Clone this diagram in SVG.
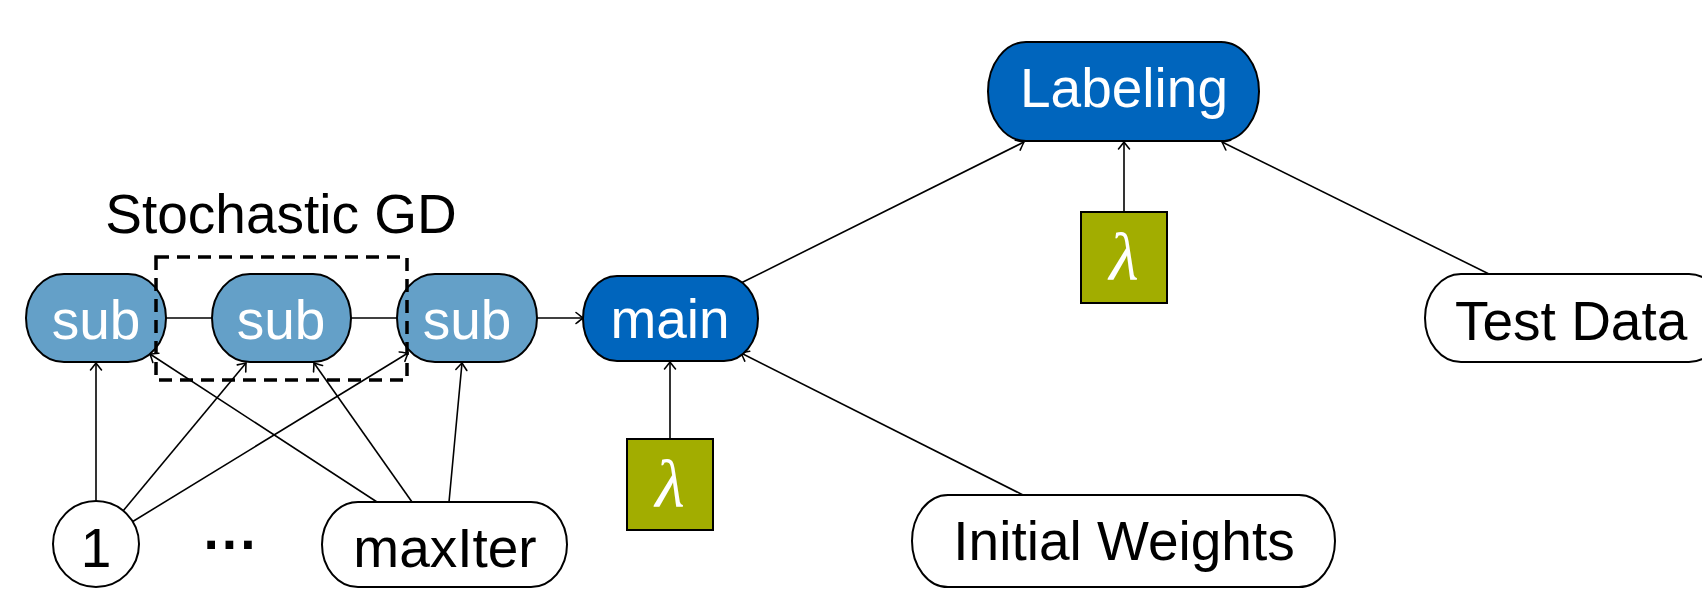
<svg xmlns="http://www.w3.org/2000/svg" width="1702" height="591" viewBox="0 0 1702 591">
<style>
.n{stroke:#000;stroke-width:2}
.sub{fill:#64A0C8}
.blue{fill:#0065BD}
.white{fill:#fff}
.lam{fill:#A2AD00;stroke:#000;stroke-width:2}
.t{font-family:"Liberation Sans",Arial,sans-serif;font-size:55px;text-anchor:middle}
.tw{fill:#fff}
.tb{fill:#000}
.l{font-family:"Liberation Serif","Times New Roman",serif;font-style:italic;font-size:68px;fill:#fff;text-anchor:middle}
.c{fill:none;stroke:#000;stroke-width:1.6}
.a{marker-end:url(#arr)}
</style>
<defs>
<marker id="arr" markerUnits="userSpaceOnUse" markerWidth="14" markerHeight="14" refX="0" refY="0" viewBox="-10 -7 12 14" orient="auto" overflow="visible">
<path d="M-7,-5.5 Q-2,-1.5 0,0 Q-2,1.5 -7,5.5" fill="none" stroke="#000" stroke-width="1.6" stroke-linecap="round"/>
</marker>
</defs>
<rect width="1702" height="591" fill="#fff"/>
<g id="connectors">
<path class="c a" d="M96,501 L96,363"/>
<path class="c a" d="M123,511 L246,363"/>
<path class="c a" d="M132,522 L408,353"/>
<path class="c a" d="M377,502 L150,354"/>
<path class="c a" d="M412,502 L314,363"/>
<path class="c a" d="M449,502 L462,363"/>
<path class="c" d="M166,318 L212,318"/>
<path class="c" d="M351,318 L397,318"/>
<path class="c a" d="M537,318 L583,318"/>
<path class="c a" d="M670,439 L670,362"/>
<path class="c a" d="M1023,495 L741,353"/>
<path class="c a" d="M741,283 L1024,142"/>
<path class="c a" d="M1124,212 L1124,142"/>
<path class="c a" d="M1489,274 L1222,142"/>
</g>
<g id="label-sgd"><text class="t tb" x="281" y="233">Stochastic GD</text></g>
<g id="sub1"><rect class="n sub" x="26" y="274" width="140" height="88" rx="38" ry="44"/><text class="t tw" x="96" y="339">sub</text></g>
<g id="sub2"><rect class="n sub" x="212" y="274" width="139" height="88" rx="38" ry="44"/><text class="t tw" x="281" y="339">sub</text></g>
<g id="sub3"><rect class="n sub" x="397" y="274" width="140" height="88" rx="38" ry="44"/><text class="t tw" x="467" y="339">sub</text></g>
<g id="sgd-box"><rect x="156" y="257" width="251" height="123" fill="none" stroke="#000" stroke-width="3.5" stroke-dasharray="13,8"/></g>
<g id="main"><rect class="n blue" x="583" y="276" width="175" height="85" rx="34" ry="42.5"/><text class="t tw" x="670" y="338">main</text></g>
<g id="labeling"><rect class="n blue" x="988" y="42" width="271" height="99" rx="38" ry="49.5"/><text class="t tw" x="1124" y="107">Labeling</text></g>
<g id="lambda1"><rect class="lam" x="627" y="439" width="86" height="91"/><text class="l" x="670" y="507">λ</text></g>
<g id="lambda2"><rect class="lam" x="1081" y="212" width="86" height="91"/><text class="l" x="1124" y="280">λ</text></g>
<g id="testdata"><rect class="n white" x="1425" y="274" width="300" height="88" rx="36" ry="44"/><text class="t tb" x="1455" y="340" style="text-anchor:start">Test Data</text></g>
<g id="initweights"><rect class="n white" x="912" y="495" width="423" height="92" rx="36" ry="46"/><text class="t tb" x="1124" y="560">Initial Weights</text></g>
<g id="one"><circle class="n white" cx="96" cy="544" r="43"/><text class="t tb" x="96" y="567">1</text></g>
<g id="dots"><text class="t tb" x="231" y="563" style="font-weight:bold">···</text></g>
<g id="maxiter"><rect class="n white" x="322" y="502" width="245" height="85" rx="36" ry="42.5"/><text class="t tb" x="445" y="567">maxIter</text></g>
</svg>
